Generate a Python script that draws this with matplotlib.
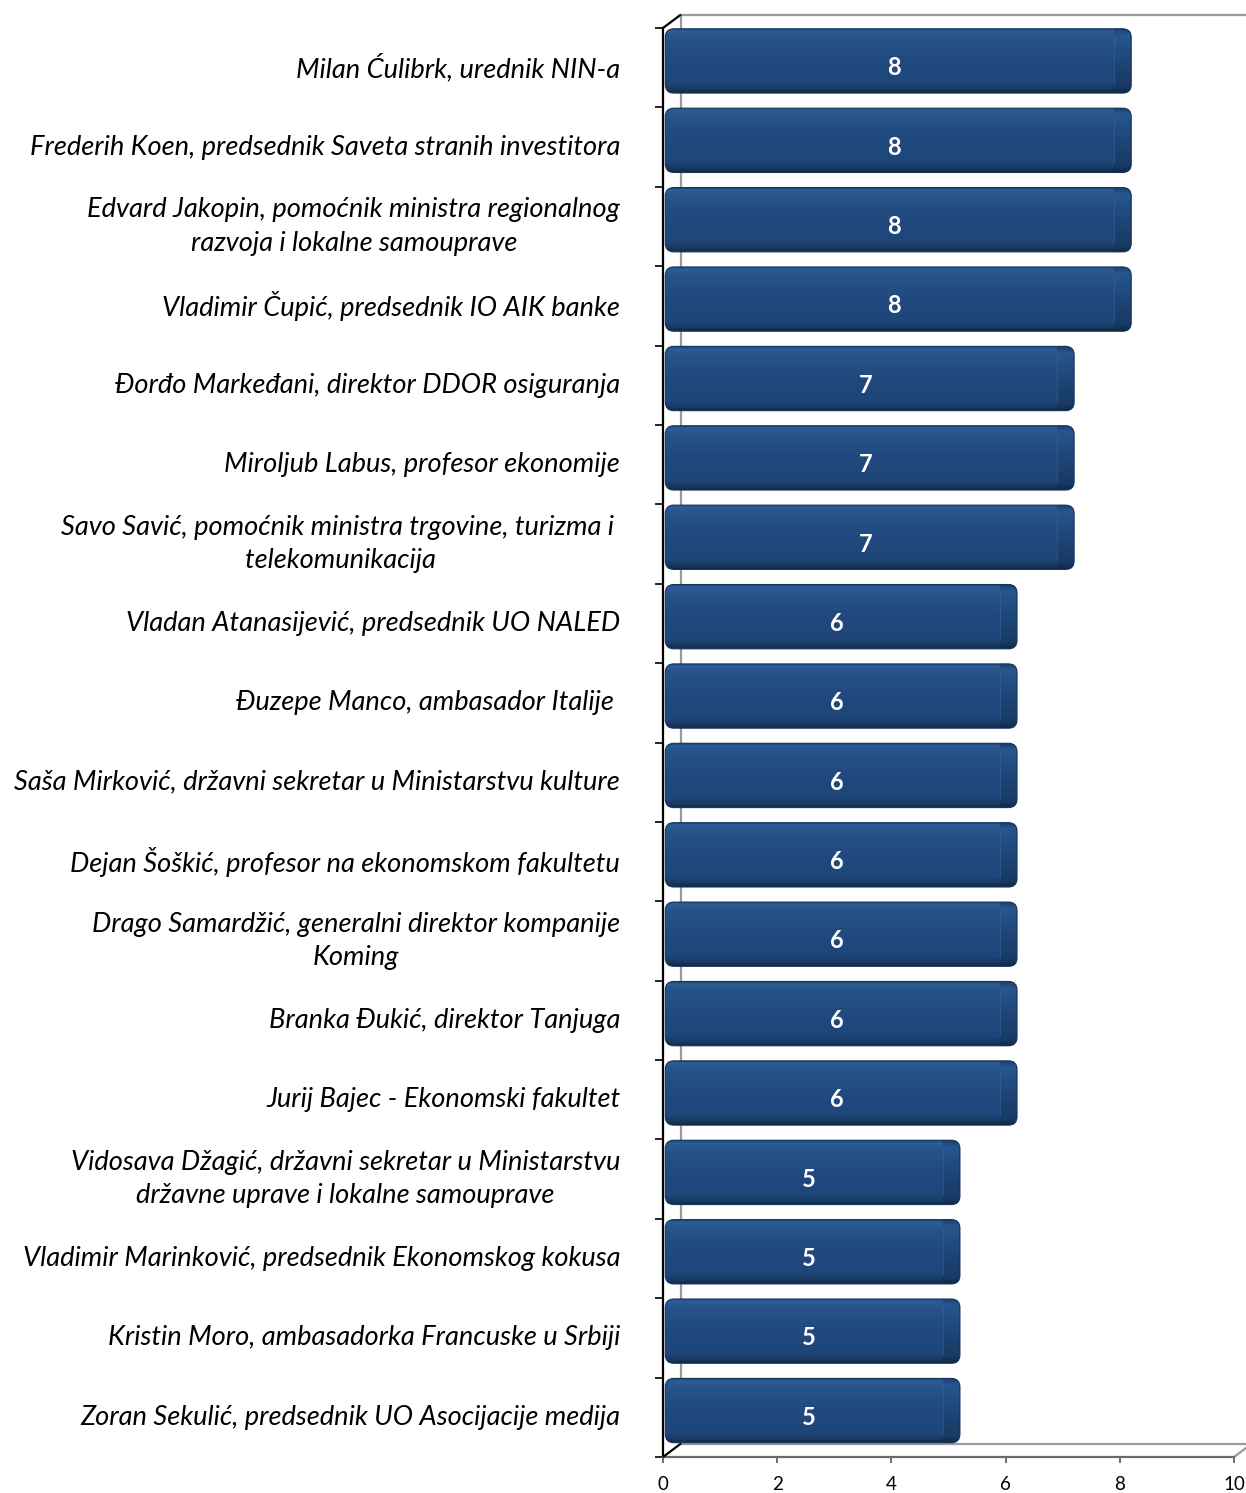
import numpy as np
import matplotlib
matplotlib.use("Agg")
import matplotlib.pyplot as plt
from matplotlib.patches import FancyBboxPatch
from matplotlib.colors import LinearSegmentedColormap

plt.rcParams['font.family'] = ['Lato', 'DejaVu Sans']

names = [
    "Milan Ćulibrk, urednik NIN-a",
    "Frederih Koen, predsednik Saveta stranih investitora",
    "Edvard Jakopin, pomoćnik ministra regionalnog\nrazvoja i lokalne samouprave",
    "Vladimir Čupić, predsednik IO AIK banke",
    "Đorđo Markeđani, direktor DDOR osiguranja",
    "Miroljub Labus, profesor ekonomije",
    "Savo Savić, pomoćnik ministra trgovine, turizma i \ntelekomunikacija",
    "Vladan Atanasijević, predsednik UO NALED",
    "Đuzepe Manco, ambasador Italije ",
    "Saša Mirković, državni sekretar u Ministarstvu kulture",
    "Dejan Šoškić, profesor na ekonomskom fakultetu",
    "Drago Samardžić, generalni direktor kompanije\nKoming",
    "Branka Đukić, direktor Tanjuga",
    "Jurij Bajec - Ekonomski fakultet",
    "Vidosava Džagić, državni sekretar u Ministarstvu\ndržavne uprave i lokalne samouprave",
    "Vladimir Marinković, predsednik Ekonomskog kokusa",
    "Kristin Moro, ambasadorka Francuske u Srbiji",
    "Zoran Sekulić, predsednik UO Asocijacije medija",
]
scores = [8, 8, 8, 8, 7, 7, 7, 6, 6, 6, 6, 6, 6, 6, 5, 5, 5, 5]
xticks = [0, 2, 4, 6, 8, 10]

fig = plt.figure(figsize=(12.46, 14.93), dpi=100)
ax = fig.add_axes([663/1246, 36/1493, 571/1246, 1429/1493])
ax.set_xlim(0, 10)
ax.set_ylim(len(names) - 0.5, -0.5)
ax.patch.set_alpha(0)

# 3d frame (back wall + floor)
dx, dy = 0.315, 0.17
top, bot = -0.5, len(names) - 0.5
grey = '#9a9a9a'
kw = dict(clip_on=False, lw=1.6, solid_capstyle='butt')
ax.plot([dx, dx], [top - dy, bot - dy], color=grey, zorder=0, **kw)
ax.plot([dx, 10 + dx], [top - dy, top - dy], color=grey, zorder=0, **kw)
ax.plot([dx, 10 + dx], [bot - dy, bot - dy], color=grey, zorder=0, **kw)
ax.plot([10, 10 + dx], [bot, bot - dy], color=grey, zorder=0, **kw)
ax.plot([0, dx], [bot, bot - dy], color='black', zorder=5, **kw)
ax.plot([0, dx], [top, top - dy], color='black', zorder=5, **kw)

# bar gradient (top -> bottom)
face = LinearSegmentedColormap.from_list('face', [
    (0.0, '#1a3d69'), (0.04, '#2c5d96'), (0.15, '#25538a'),
    (0.5, '#21497e'), (0.85, '#1f4679'), (0.94, '#19395f'), (1.0, '#10284a')])
cap = LinearSegmentedColormap.from_list('cap', [
    (0.0, '#1a3d69'), (0.1, '#27568f'), (0.5, '#1f4678'),
    (0.9, '#183a64'), (1.0, '#10284a')])
grad = np.linspace(0, 1, 200).reshape(-1, 1)

for i, v in enumerate(scores):
    y0 = i - 0.49
    h = 0.81
    x0, x1 = 0.04, v + 0.2
    shape = FancyBboxPatch((x0, y0), x1 - x0, h,
                           boxstyle="round,pad=0,rounding_size=0.15",
                           mutation_aspect=0.72, fc='none', ec='#16355c',
                           lw=0.8, zorder=3)
    ax.add_patch(shape)
    im = ax.imshow(grad, cmap=face, aspect='auto', origin='upper',
                   extent=(x0, x1, y0 + h, y0), zorder=2, interpolation='bilinear')
    im.set_clip_path(shape)
    im2 = ax.imshow(grad, cmap=cap, aspect='auto', origin='upper',
                    extent=(v - 0.1, x1, y0 + h, y0), zorder=2.5, interpolation='bilinear')
    im2.set_clip_path(shape)
    ax.plot([v - 0.1, v - 0.1], [y0 + 0.1, y0 + h - 0.12], color='#3a6aa6',
            lw=0.8, alpha=0.5, zorder=2.6)
    ax.text(v / 2 + 0.05, i, str(v), color='white', fontsize=17, fontweight='bold',
            ha='center', va='center', zorder=4)
    ax.text(-0.75, i, names[i], fontsize=19.6, style='italic', ha='right',
            va='center', multialignment='center', linespacing=1.42, clip_on=False)

ax.set_xlim(0, 10)
ax.set_ylim(len(names) - 0.5, -0.5)

ax.set_xticks(xticks)
ax.set_xticklabels([str(t) for t in xticks], fontsize=13.5)
ax.tick_params(axis='x', direction='out', length=4.5, width=1.2, color='#555555', pad=9)
ax.set_yticks([])
ax.set_yticks(np.arange(-0.5, len(names)), minor=True)
ax.tick_params(axis='y', which='minor', direction='out', length=6, width=1.2,
               color='black', labelleft=False)
for s in ['top', 'right']:
    ax.spines[s].set_visible(False)
ax.spines['left'].set_color('black')
ax.spines['left'].set_linewidth(1.6)
ax.spines['bottom'].set_color('#6a6a6a')
ax.spines['bottom'].set_linewidth(1.6)

fig.savefig('out.png', dpi=100)
